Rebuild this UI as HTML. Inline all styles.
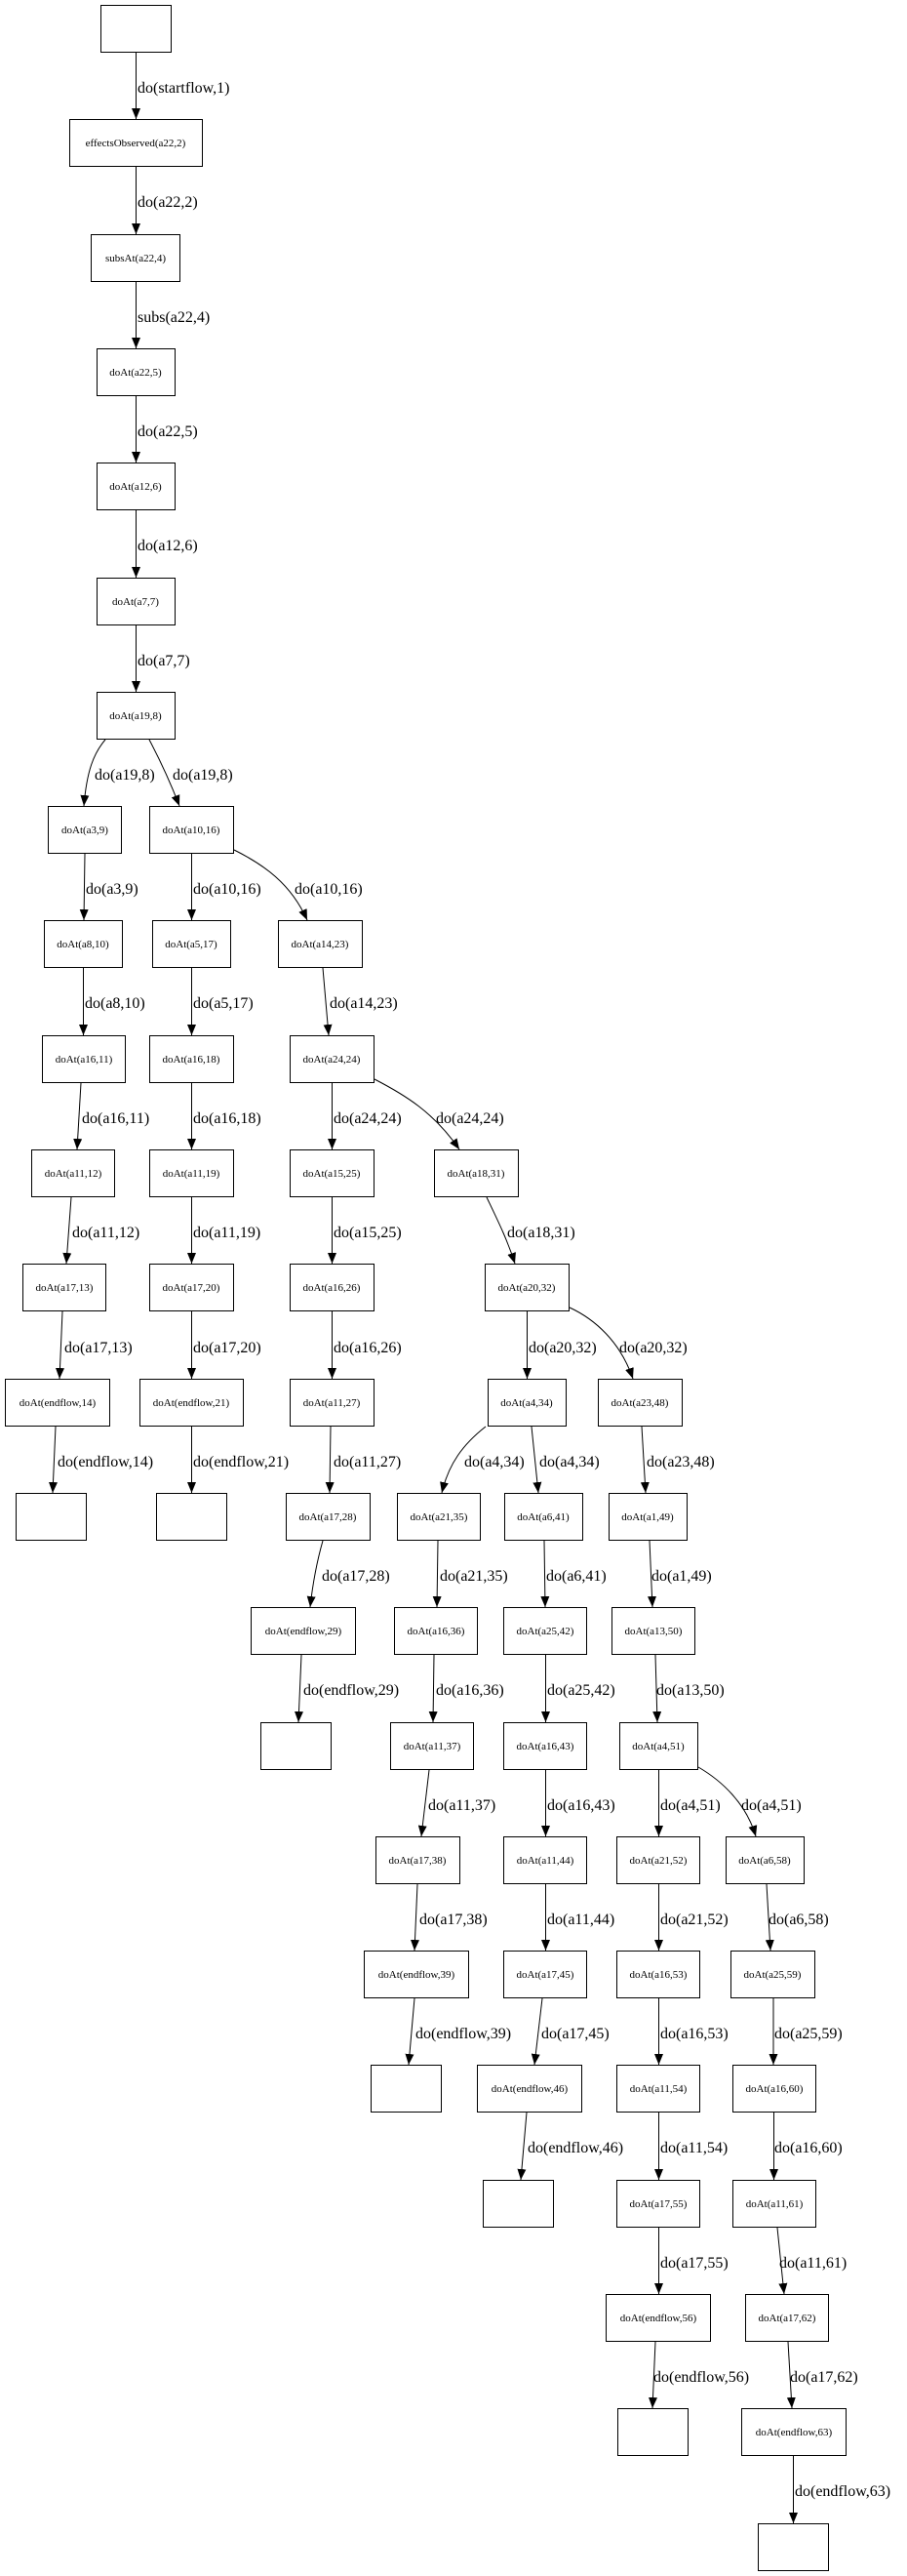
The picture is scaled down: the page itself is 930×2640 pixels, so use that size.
<!DOCTYPE html>
<html><head><meta charset="utf-8"><style>
html,body{margin:0;padding:0;background:#fff;}
svg{display:block;}
.n{fill:#fff;stroke:#000;stroke-width:1;}
.t{font-family:"Liberation Serif",serif;font-size:11px;text-anchor:middle;fill:#000;}
.l{font-family:"Liberation Serif",serif;font-size:16px;fill:#000;}
.e{fill:none;stroke:#000;stroke-width:1;marker-end:url(#a);}
</style></head><body>
<svg width="930" height="2640" viewBox="0 0 930 2640" xmlns="http://www.w3.org/2000/svg">
<defs><marker id="a" markerUnits="userSpaceOnUse" markerWidth="11" markerHeight="9" refX="11" refY="4.5" orient="auto"><path d="M0,0 L11,4.5 L0,9 z" fill="#000"/></marker></defs>
<g>
<rect class="n" x="103.5" y="5.5" width="72" height="48"/>
<rect class="n" x="71.5" y="122.5" width="136" height="48"/><text class="t" x="139" y="150">effectsObserved(a22,2)</text>
<rect class="n" x="93.5" y="240.5" width="91" height="48"/><text class="t" x="139" y="268">subsAt(a22,4)</text>
<rect class="n" x="99.5" y="357.5" width="80" height="48"/><text class="t" x="139" y="385">doAt(a22,5)</text>
<rect class="n" x="99.5" y="474.5" width="80" height="48"/><text class="t" x="139" y="502">doAt(a12,6)</text>
<rect class="n" x="99.5" y="592.5" width="80" height="48"/><text class="t" x="139" y="620">doAt(a7,7)</text>
<rect class="n" x="99.5" y="709.5" width="80" height="48"/><text class="t" x="139" y="737">doAt(a19,8)</text>
<rect class="n" x="49.5" y="826.5" width="75" height="48"/><text class="t" x="87" y="854">doAt(a3,9)</text>
<rect class="n" x="153.5" y="826.5" width="86" height="48"/><text class="t" x="196" y="854">doAt(a10,16)</text>
<rect class="n" x="45.5" y="943.5" width="80" height="48"/><text class="t" x="85" y="971">doAt(a8,10)</text>
<rect class="n" x="156.5" y="943.5" width="80" height="48"/><text class="t" x="196" y="971">doAt(a5,17)</text>
<rect class="n" x="285.5" y="943.5" width="86" height="48"/><text class="t" x="328" y="971">doAt(a14,23)</text>
<rect class="n" x="43.5" y="1061.5" width="85" height="48"/><text class="t" x="86" y="1089">doAt(a16,11)</text>
<rect class="n" x="153.5" y="1061.5" width="86" height="48"/><text class="t" x="196" y="1089">doAt(a16,18)</text>
<rect class="n" x="297.5" y="1061.5" width="86" height="48"/><text class="t" x="340" y="1089">doAt(a24,24)</text>
<rect class="n" x="32.5" y="1178.5" width="85" height="48"/><text class="t" x="75" y="1206">doAt(a11,12)</text>
<rect class="n" x="153.5" y="1178.5" width="86" height="48"/><text class="t" x="196" y="1206">doAt(a11,19)</text>
<rect class="n" x="297.5" y="1178.5" width="86" height="48"/><text class="t" x="340" y="1206">doAt(a15,25)</text>
<rect class="n" x="445.5" y="1178.5" width="86" height="48"/><text class="t" x="488" y="1206">doAt(a18,31)</text>
<rect class="n" x="23.5" y="1295.5" width="85" height="48"/><text class="t" x="66" y="1323">doAt(a17,13)</text>
<rect class="n" x="153.5" y="1295.5" width="86" height="48"/><text class="t" x="196" y="1323">doAt(a17,20)</text>
<rect class="n" x="297.5" y="1295.5" width="86" height="48"/><text class="t" x="340" y="1323">doAt(a16,26)</text>
<rect class="n" x="497.5" y="1295.5" width="86" height="48"/><text class="t" x="540" y="1323">doAt(a20,32)</text>
<rect class="n" x="5.5" y="1413.5" width="107" height="48"/><text class="t" x="59" y="1441">doAt(endflow,14)</text>
<rect class="n" x="143.5" y="1413.5" width="106" height="48"/><text class="t" x="196" y="1441">doAt(endflow,21)</text>
<rect class="n" x="297.5" y="1413.5" width="86" height="48"/><text class="t" x="340" y="1441">doAt(a11,27)</text>
<rect class="n" x="500.5" y="1413.5" width="80" height="48"/><text class="t" x="540" y="1441">doAt(a4,34)</text>
<rect class="n" x="613.5" y="1413.5" width="86" height="48"/><text class="t" x="656" y="1441">doAt(a23,48)</text>
<rect class="n" x="16.5" y="1530.5" width="72" height="48"/>
<rect class="n" x="160.5" y="1530.5" width="72" height="48"/>
<rect class="n" x="293.5" y="1530.5" width="86" height="48"/><text class="t" x="336" y="1558">doAt(a17,28)</text>
<rect class="n" x="407.5" y="1530.5" width="85" height="48"/><text class="t" x="450" y="1558">doAt(a21,35)</text>
<rect class="n" x="517.5" y="1530.5" width="80" height="48"/><text class="t" x="557" y="1558">doAt(a6,41)</text>
<rect class="n" x="624.5" y="1530.5" width="80" height="48"/><text class="t" x="664" y="1558">doAt(a1,49)</text>
<rect class="n" x="257.5" y="1647.5" width="107" height="48"/><text class="t" x="311" y="1675">doAt(endflow,29)</text>
<rect class="n" x="404.5" y="1647.5" width="85" height="48"/><text class="t" x="447" y="1675">doAt(a16,36)</text>
<rect class="n" x="516.5" y="1647.5" width="85" height="48"/><text class="t" x="559" y="1675">doAt(a25,42)</text>
<rect class="n" x="627.5" y="1647.5" width="85" height="48"/><text class="t" x="670" y="1675">doAt(a13,50)</text>
<rect class="n" x="267.5" y="1765.5" width="72" height="48"/>
<rect class="n" x="400.5" y="1765.5" width="85" height="48"/><text class="t" x="443" y="1793">doAt(a11,37)</text>
<rect class="n" x="516.5" y="1765.5" width="85" height="48"/><text class="t" x="559" y="1793">doAt(a16,43)</text>
<rect class="n" x="635.5" y="1765.5" width="80" height="48"/><text class="t" x="675" y="1793">doAt(a4,51)</text>
<rect class="n" x="385.5" y="1882.5" width="86" height="48"/><text class="t" x="428" y="1910">doAt(a17,38)</text>
<rect class="n" x="516.5" y="1882.5" width="85" height="48"/><text class="t" x="559" y="1910">doAt(a11,44)</text>
<rect class="n" x="632.5" y="1882.5" width="85" height="48"/><text class="t" x="675" y="1910">doAt(a21,52)</text>
<rect class="n" x="744.5" y="1882.5" width="80" height="48"/><text class="t" x="784" y="1910">doAt(a6,58)</text>
<rect class="n" x="373.5" y="1999.5" width="107" height="48"/><text class="t" x="427" y="2027">doAt(endflow,39)</text>
<rect class="n" x="516.5" y="1999.5" width="85" height="48"/><text class="t" x="559" y="2027">doAt(a17,45)</text>
<rect class="n" x="632.5" y="1999.5" width="85" height="48"/><text class="t" x="675" y="2027">doAt(a16,53)</text>
<rect class="n" x="749.5" y="1999.5" width="86" height="48"/><text class="t" x="792" y="2027">doAt(a25,59)</text>
<rect class="n" x="380.5" y="2116.5" width="72" height="48"/>
<rect class="n" x="489.5" y="2116.5" width="107" height="48"/><text class="t" x="543" y="2144">doAt(endflow,46)</text>
<rect class="n" x="632.5" y="2116.5" width="85" height="48"/><text class="t" x="675" y="2144">doAt(a11,54)</text>
<rect class="n" x="751.5" y="2116.5" width="85" height="48"/><text class="t" x="794" y="2144">doAt(a16,60)</text>
<rect class="n" x="495.5" y="2234.5" width="72" height="48"/>
<rect class="n" x="632.5" y="2234.5" width="85" height="48"/><text class="t" x="675" y="2262">doAt(a17,55)</text>
<rect class="n" x="751.5" y="2234.5" width="85" height="48"/><text class="t" x="794" y="2262">doAt(a11,61)</text>
<rect class="n" x="621.5" y="2351.5" width="107" height="48"/><text class="t" x="675" y="2379">doAt(endflow,56)</text>
<rect class="n" x="764.5" y="2351.5" width="85" height="48"/><text class="t" x="807" y="2379">doAt(a17,62)</text>
<rect class="n" x="633.5" y="2468.5" width="72" height="48"/>
<rect class="n" x="760.5" y="2468.5" width="107" height="48"/><text class="t" x="814" y="2496">doAt(endflow,63)</text>
<rect class="n" x="777.5" y="2586.5" width="72" height="48"/>
</g>
<g>
<path class="e" d="M139.5,54 L139.5,122"/><text class="l" x="141" y="95">do(startflow,1)</text>
<path class="e" d="M139.5,171 L139.5,240"/><text class="l" x="141" y="212">do(a22,2)</text>
<path class="e" d="M139.5,289 L139.5,357"/><text class="l" x="141" y="330">subs(a22,4)</text>
<path class="e" d="M139.5,406 L139.5,474"/><text class="l" x="141" y="447">do(a22,5)</text>
<path class="e" d="M139.5,523 L139.5,592"/><text class="l" x="141" y="564">do(a12,6)</text>
<path class="e" d="M139.5,641 L139.5,709"/><text class="l" x="141" y="682">do(a7,7)</text>
<path class="e" d="M108,758 C96,772 89,790 86,826"/><text class="l" x="97" y="799">do(a19,8)</text>
<path class="e" d="M153,758 C162,775 172,795 184,826"/><text class="l" x="177" y="799">do(a19,8)</text>
<path class="e" d="M87,875 L86,943"/><text class="l" x="88" y="916">do(a3,9)</text>
<path class="e" d="M196.5,875 L196.5,943"/><text class="l" x="198" y="916">do(a10,16)</text>
<path class="e" d="M240,871 C270,886 298,905 315,943"/><text class="l" x="302" y="916">do(a10,16)</text>
<path class="e" d="M85.5,992 L85.5,1061"/><text class="l" x="87" y="1033">do(a8,10)</text>
<path class="e" d="M196.5,992 L196.5,1061"/><text class="l" x="198" y="1033">do(a5,17)</text>
<path class="e" d="M331,992 L337,1061"/><text class="l" x="338" y="1033">do(a14,23)</text>
<path class="e" d="M83,1110 L79,1178"/><text class="l" x="84" y="1151">do(a16,11)</text>
<path class="e" d="M196.5,1110 L196.5,1178"/><text class="l" x="198" y="1151">do(a16,18)</text>
<path class="e" d="M340.5,1110 L340.5,1178"/><text class="l" x="342" y="1151">do(a24,24)</text>
<path class="e" d="M384,1106 C415,1122 445,1140 471,1178"/><text class="l" x="447" y="1151">do(a24,24)</text>
<path class="e" d="M73,1227 L68,1295"/><text class="l" x="74" y="1268">do(a11,12)</text>
<path class="e" d="M196.5,1227 L196.5,1295"/><text class="l" x="198" y="1268">do(a11,19)</text>
<path class="e" d="M340.5,1227 L340.5,1295"/><text class="l" x="342" y="1268">do(a15,25)</text>
<path class="e" d="M499,1227 C510,1250 520,1270 528,1295"/><text class="l" x="520" y="1268">do(a18,31)</text>
<path class="e" d="M64,1344 L61,1413"/><text class="l" x="66" y="1386">do(a17,13)</text>
<path class="e" d="M196.5,1344 L196.5,1413"/><text class="l" x="198" y="1386">do(a17,20)</text>
<path class="e" d="M340.5,1344 L340.5,1413"/><text class="l" x="342" y="1386">do(a16,26)</text>
<path class="e" d="M540.5,1344 L540.5,1413"/><text class="l" x="542" y="1386">do(a20,32)</text>
<path class="e" d="M584,1340 C610,1352 636,1375 649,1413"/><text class="l" x="635" y="1386">do(a20,32)</text>
<path class="e" d="M57,1462 L54,1530"/><text class="l" x="59" y="1503">do(endflow,14)</text>
<path class="e" d="M196.5,1462 L196.5,1530"/><text class="l" x="198" y="1503">do(endflow,21)</text>
<path class="e" d="M339,1462 L338,1530"/><text class="l" x="342" y="1503">do(a11,27)</text>
<path class="e" d="M498,1462 C475,1480 460,1500 453,1530"/><text class="l" x="476" y="1503">do(a4,34)</text>
<path class="e" d="M545,1462 L552,1530"/><text class="l" x="553" y="1503">do(a4,34)</text>
<path class="e" d="M658,1462 L662,1530"/><text class="l" x="663" y="1503">do(a23,48)</text>
<path class="e" d="M331,1579 C325,1600 321,1620 318,1647"/><text class="l" x="330" y="1620">do(a17,28)</text>
<path class="e" d="M449,1579 L448,1647"/><text class="l" x="451" y="1620">do(a21,35)</text>
<path class="e" d="M558,1579 L559,1647"/><text class="l" x="560" y="1620">do(a6,41)</text>
<path class="e" d="M666,1579 L669,1647"/><text class="l" x="668" y="1620">do(a1,49)</text>
<path class="e" d="M309,1696 L306,1765"/><text class="l" x="311" y="1737">do(endflow,29)</text>
<path class="e" d="M445,1696 L444,1765"/><text class="l" x="447" y="1737">do(a16,36)</text>
<path class="e" d="M559.5,1696 L559.5,1765"/><text class="l" x="561" y="1737">do(a25,42)</text>
<path class="e" d="M672,1696 L674,1765"/><text class="l" x="673" y="1737">do(a13,50)</text>
<path class="e" d="M440,1814 L432,1882"/><text class="l" x="439" y="1855">do(a11,37)</text>
<path class="e" d="M559.5,1814 L559.5,1882"/><text class="l" x="561" y="1855">do(a16,43)</text>
<path class="e" d="M675.5,1814 L675.5,1882"/><text class="l" x="677" y="1855">do(a4,51)</text>
<path class="e" d="M716,1811 C740,1825 765,1848 775,1882"/><text class="l" x="760" y="1855">do(a4,51)</text>
<path class="e" d="M428,1931 L425,1999"/><text class="l" x="430" y="1972">do(a17,38)</text>
<path class="e" d="M559.5,1931 L559.5,1999"/><text class="l" x="561" y="1972">do(a11,44)</text>
<path class="e" d="M675.5,1931 L675.5,1999"/><text class="l" x="677" y="1972">do(a21,52)</text>
<path class="e" d="M786,1931 L790,1999"/><text class="l" x="788" y="1972">do(a6,58)</text>
<path class="e" d="M425,2048 L419,2116"/><text class="l" x="426" y="2089">do(endflow,39)</text>
<path class="e" d="M556,2048 L548,2116"/><text class="l" x="555" y="2089">do(a17,45)</text>
<path class="e" d="M675.5,2048 L675.5,2116"/><text class="l" x="677" y="2089">do(a16,53)</text>
<path class="e" d="M793,2048 L793,2116"/><text class="l" x="794" y="2089">do(a25,59)</text>
<path class="e" d="M540,2165 L534,2234"/><text class="l" x="541" y="2206">do(endflow,46)</text>
<path class="e" d="M675.5,2165 L675.5,2234"/><text class="l" x="677" y="2206">do(a11,54)</text>
<path class="e" d="M793.5,2165 L793.5,2234"/><text class="l" x="794" y="2206">do(a16,60)</text>
<path class="e" d="M675.5,2283 L675.5,2351"/><text class="l" x="677" y="2324">do(a17,55)</text>
<path class="e" d="M797,2283 L804,2351"/><text class="l" x="799" y="2324">do(a11,61)</text>
<path class="e" d="M672,2400 L669,2468"/><text class="l" x="670" y="2441">do(endflow,56)</text>
<path class="e" d="M808,2400 L812,2468"/><text class="l" x="810" y="2441">do(a17,62)</text>
<path class="e" d="M813.5,2517 L813.5,2586"/><text class="l" x="815" y="2558">do(endflow,63)</text>
</g>
</svg>
</body></html>
